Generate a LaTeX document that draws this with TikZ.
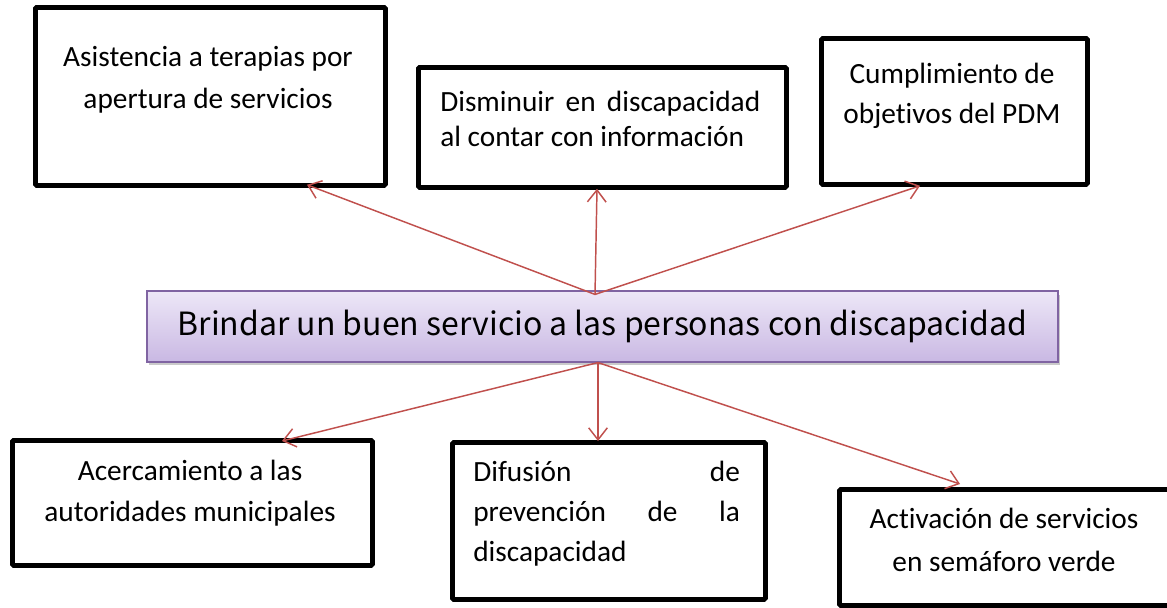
\documentclass[tikz,border=0pt]{standalone}
\usepackage{fontspec}
\setmainfont{Carlito}[Ligatures=NoCommon]
\newfontfamily\gothfont{Noto Sans CJK JP}
\usepackage{tikz}
\usetikzlibrary{positioning,arrows.meta,calc,shadows}
\definecolor{arrcolor}{RGB}{192,80,77}
\definecolor{goalborder}{RGB}{128,100,162}
\definecolor{goaltop}{RGB}{237,231,247}
\definecolor{goalbottom}{RGB}{201,184,227}

\begin{document}
\begin{tikzpicture}[x=0.75pt, y=-0.75pt,
  box/.style={draw, line width=3.6pt, rounded corners=1pt, anchor=north west, inner sep=0pt},
  goalbox/.style={draw=goalborder, line width=1.1pt, top color=goaltop, bottom color=goalbottom,
    drop shadow={shadow xshift=1.5pt, shadow yshift=-2.5pt, opacity=0.35, fill=black!60},
    minimum width=683pt, minimum height=53pt, inner sep=0pt, font=\gothfont\fontsize{24}{24}\selectfont},
  txt/.style={font=\fontsize{22}{31.5}\selectfont, align=center, anchor=north, inner sep=0pt},
  jtxt/.style={font=\fontsize{22}{30}\selectfont, align=justify, anchor=north west, inner sep=0pt},
  arr/.style={arrcolor, line width=1.1pt, -{Straight Barb[length=9pt,width=14pt]}},
]
\useasboundingbox (0,0) rectangle (1167,607);

% central goal
\node[goalbox] (goal) at (602.5,326.5) {Brindar un buen servicio a las personas con discapacidad};
\coordinate (topfork) at ($(goal.north)+(-7.5,4)$);
\coordinate (botfork) at ($(goal.south)+(-4.5,0)$);

% upper boxes
\node[box, minimum width=262.5pt, minimum height=133.5pt] (asist) at (33,5) {};
\node[txt] (asisttxt) at (208,46) {Asistencia a terapias por\\apertura de servicios};

\node[box, minimum width=276pt, minimum height=90pt] (dism) at (416,65) {};
\node[jtxt, text width=240pt, font=\fontsize{22}{26.25}\selectfont] (dismtxt) at (440,91)
  {Disminuir en discapacidad\linebreak al contar con información};

\node[box, minimum width=199.5pt, minimum height=109.5pt] (cumpl) at (819,36) {};
\node[txt, font=\fontsize{22}{30}\selectfont] (cumpltxt) at (952,63) {Cumplimiento de\\objetivos del PDM};

% lower boxes
\node[box, minimum width=270pt, minimum height=93.75pt] (acerc) at (10,438) {};
\node[txt, font=\fontsize{22}{30.75}\selectfont] (acerctxt) at (190,460) {Acercamiento a las\\autoridades municipales};

\node[box, minimum width=234.75pt, minimum height=117.75pt] (difus) at (450,440) {};
\node[jtxt, text width=200pt] (difustxt) at (473,461)
  {Difusión de\linebreak prevención de la\linebreak discapacidad};

\node[box, minimum width=253.5pt, minimum height=87pt] (activ) at (837,487) {};
\node[txt, font=\fontsize{22}{32.25}\selectfont] (activtxt) at (1004,508) {Activación de servicios\\en semáforo verde};

% arrows
\draw[arr] (topfork) -- ($(asist.south west)+(274,-3)$);
\draw[arr] (topfork) -- ($(dism.south west)+(181,-1)$);
\draw[arr] (topfork) -- ($(cumpl.south west)+(101,-1)$);
\draw[arr] (botfork) -- ($(acerc.north west)+(272,3)$);
\draw[arr] (botfork) -- ($(difus.north west)+(148,1)$);
\draw[arr] (botfork) -- ($(activ.north west)+(123,-3)$);
\end{tikzpicture}
\end{document}
